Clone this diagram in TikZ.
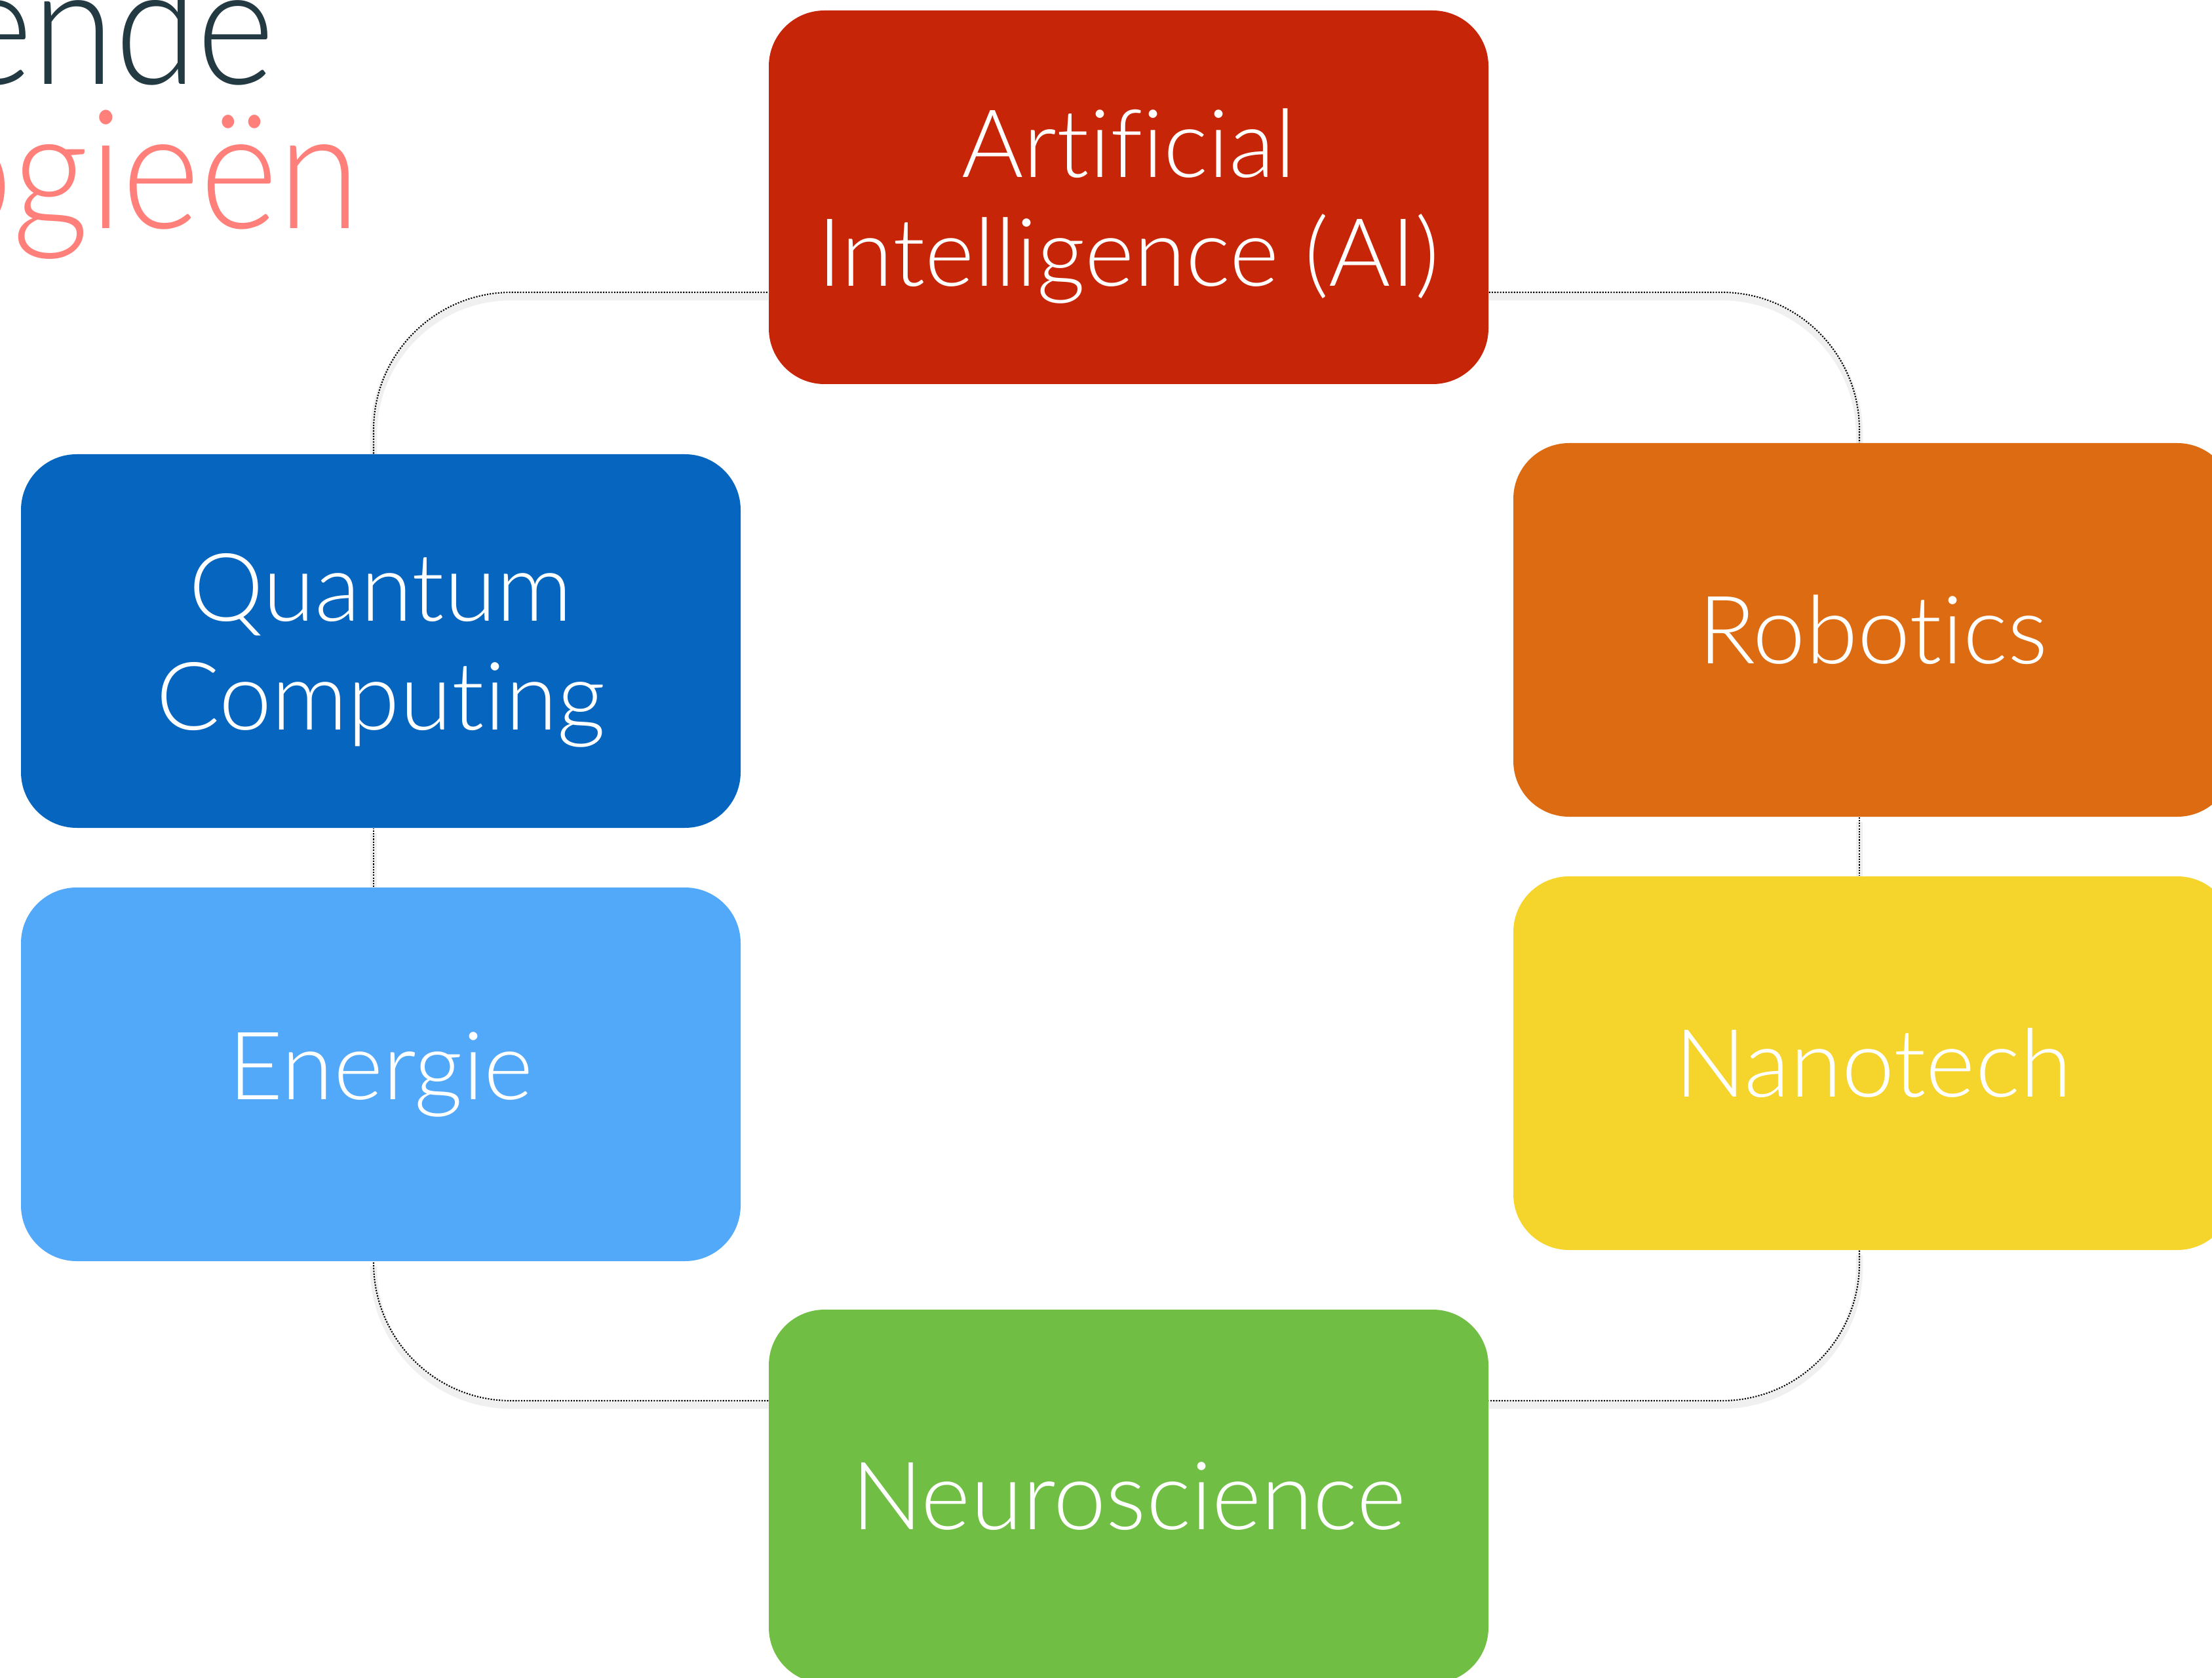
\documentclass[tikz,border=0pt]{standalone}
\usepackage{fontspec}
\setmainfont{Lato Light}[Ligatures=NoCommon]
\usepackage{tikz}
\usetikzlibrary{positioning,backgrounds}
\definecolor{aired}{HTML}{C72507}
\definecolor{qblue}{HTML}{0565BF}
\definecolor{roborange}{HTML}{DD6B11}
\definecolor{enblue}{HTML}{52A8F9}
\definecolor{nanoyellow}{HTML}{F5D42B}
\definecolor{neurogreen}{HTML}{70BE43}
\definecolor{titledark}{HTML}{233A42}
\definecolor{titlesalmon}{HTML}{FF807A}
\newcommand{\techstrut}{\rule{0pt}{37.5pt}}

\tikzset{
  tech/.style={rounded corners=0.85cm, minimum width=10.98cm, minimum height=5.7cm,
    inner sep=0pt, align=center, text=white, font=\fontsize{41}{47}\selectfont},
  ring/.style={draw=black, line width=0.6pt, dash pattern=on 0.6pt off 0.6pt,
    rounded corners=2.1cm,
    preaction={draw=black!6, solid, line width=3pt, transform canvas={yshift=-2pt}}},
  title/.style={anchor=base east, inner sep=0pt, xscale=0.9, transform shape,
    font=\fontsize{72}{72}\selectfont}
}

\begin{document}
\begin{tikzpicture}
      \useasboundingbox (0,0) rectangle (33.75,25.59);

      \node [title, text=titledark] at (4.20, 24.30) (head1) {ende};
      \node [title, text=titlesalmon] at (5.50, 22.10) (head2) {ogieën};

      \coordinate (tl) at (5.70, 21.13);
      \coordinate (br) at (28.37, 4.22);

      \node [tech, fill=aired] at (17.22, 22.58) (ai) {\techstrut Artificial\\Intelligence (AI)};
      \node [tech, fill=qblue] at (5.81, 15.81) (quantum) {\techstrut Quantum\\Computing};
      \node [tech, fill=roborange] at (28.58, 15.98) (robotics) {Robotics};
      \node [tech, fill=enblue] at (5.81, 9.20) (energie) {Energie};
      \node [tech, fill=nanoyellow] at (28.58, 9.37) (nanotech) {Nanotech};
      \node [tech, fill=neurogreen] at (17.22, 2.76) (neuro) {Neuroscience};

      \begin{scope}[on background layer]
      \draw [ring] (ai.east |- tl) -| (robotics.north -| br);
      \draw [ring] (robotics.south -| br) -- (nanotech.north -| br);
      \draw [ring] (nanotech.south -| br) |- (neuro.east |- br);
      \draw [ring] (neuro.west |- br) -| (energie.south -| tl);
      \draw [ring] (energie.north -| tl) -- (quantum.south -| tl);
      \draw [ring] (quantum.north -| tl) |- (ai.west |- tl);
      \end{scope}
\end{tikzpicture}
\end{document}
